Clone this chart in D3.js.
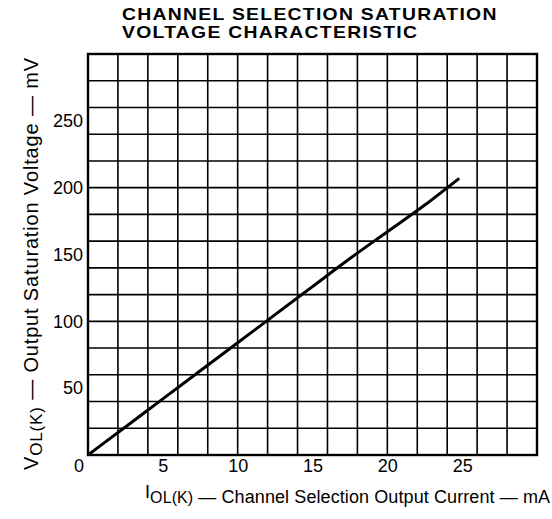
<!DOCTYPE html>
<html>
<head>
<meta charset="utf-8">
<script src="https://cdn.jsdelivr.net/npm/d3@7"></script>
<style>
  body { margin: 0; background: #fff; }
  svg { display: block; font-family: "Liberation Sans", Arial, sans-serif; }
</style>
</head>
<body>
<svg id="chart" width="552" height="519"></svg>
<script>
// values
const current = [0, 2.5, 5, 7.5, 10, 12.5, 15, 17.5, 20, 22.5, 24.8];   // mA
const voltage = [0, 21, 42, 63, 84, 105, 126, 147, 167, 187, 207];      // mV
const xTickLabels = [0, 5, 10, 15, 20, 25];
const yTickLabels = [50, 100, 150, 200, 250];
const titleLines = ["CHANNEL SELECTION SATURATION", "VOLTAGE CHARACTERISTIC"];

const svg = d3.select("#chart");
const plotL = 88, plotR = 537, plotT = 54, plotB = 455;

const x = d3.scaleLinear().domain([0, 30]).range([plotL, plotR]);
const y = d3.scaleLinear().domain([0, 300]).range([plotB, plotT]);

// title: two lines, stretched sideways to the width of the original
const title = svg.append("g");
title.selectAll("text")
    .data(titleLines)
    .join("text")
    .attr("x", 0)
    .attr("y", (d, i) => i * 16.8)
    .attr("font-size", 15)
    .attr("font-weight", "bold")
    .attr("letter-spacing", 1)
    .text(d => d);
const w0 = title.select("text").node().getComputedTextLength();
title.attr("transform", `translate(122,19.5) scale(${376 / w0},1.1)`);

// grid
const grid = svg.append("g").attr("stroke", "#000").attr("stroke-width", 1.6);
grid.selectAll(".gx")
    .data(x.ticks(12).slice(1, -1))
    .join("line")
    .attr("x1", d => x(d)).attr("x2", d => x(d))
    .attr("y1", plotT).attr("y2", plotB);
grid.selectAll(".gy")
    .data(y.ticks(12).slice(1, -1))
    .join("line")
    .attr("y1", d => y(d)).attr("y2", d => y(d))
    .attr("x1", plotL).attr("x2", plotR);

// frame
svg.append("rect")
    .attr("x", plotL).attr("y", plotT)
    .attr("width", plotR - plotL).attr("height", plotB - plotT)
    .attr("fill", "none")
    .attr("stroke", "#000")
    .attr("stroke-width", 2.4);

// curve
svg.append("path")
    .datum(current.map((c, i) => [c, voltage[i]]))
    .attr("fill", "none")
    .attr("stroke", "#000")
    .attr("stroke-width", 3)
    .attr("d", d3.line().curve(d3.curveMonotoneX).x(d => x(d[0])).y(d => y(d[1])));

// axes
const xAxis = svg.append("g")
    .attr("transform", `translate(0,${plotB})`)
    .call(d3.axisBottom(x).tickValues(xTickLabels).tickSize(0).tickPadding(4))
    .call(g => g.select(".domain").remove());
xAxis.attr("font-family", null).attr("font-size", 18);
xAxis.selectAll("text")
    .attr("fill", "#000")
    .attr("dx", d => d == 0 ? -9.5 : 0);

const yAxis = svg.append("g")
    .attr("transform", `translate(${plotL},0)`)
    .call(d3.axisLeft(y).tickValues(yTickLabels).tickSize(0).tickPadding(5))
    .call(g => g.select(".domain").remove());
yAxis.attr("font-family", null).attr("font-size", 18);
yAxis.selectAll("text").attr("fill", "#000");

// axis titles
const xt = svg.append("text")
    .attr("x", 145).attr("y", 503)
    .attr("font-size", 18)
    .attr("textLength", 405)
    .attr("lengthAdjust", "spacing");
xt.append("tspan").attr("dy", -5).text("I");
xt.append("tspan").attr("dy", 5).attr("font-size", 16).text("OL(K)");
xt.append("tspan").text(" \u2014 Channel Selection Output Current \u2014 mA");

const yt = svg.append("text")
    .attr("transform", "translate(38,470) rotate(-90)")
    .attr("font-size", 20)
    .attr("textLength", 412)
    .attr("lengthAdjust", "spacing");
yt.append("tspan").text("V");
yt.append("tspan").attr("dy", 4).attr("font-size", 17).text("OL(K)");
yt.append("tspan").attr("dy", -4).text(" \u2014 Output Saturation Voltage \u2014 mV");
</script>
</body>
</html>
